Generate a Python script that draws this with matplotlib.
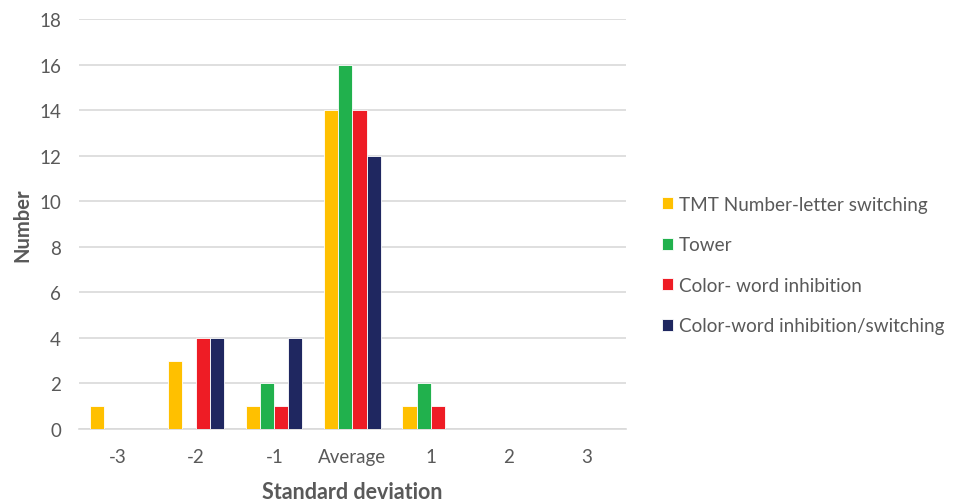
import numpy as np
import matplotlib.pyplot as plt

plt.rcParams['font.family'] = ['Lato', 'DejaVu Sans']

# categories on x axis
categories = ['-3', '-2', '-1', 'Average', '1', '2', '3']

# counts per series
tmt = [1, 3, 1, 14, 1, 0, 0]
tower = [0, 0, 2, 16, 2, 0, 0]
color_word = [0, 4, 1, 14, 1, 0, 0]
color_word_switch = [0, 4, 4, 12, 0, 0, 0]

series = [
    ('TMT Number-letter switching', tmt, '#FFC000'),
    ('Tower', tower, '#21B14D'),
    ('Color- word inhibition', color_word, '#EE1C25'),
    ('Color-word inhibition/switching', color_word_switch, '#1F2760'),
]

text_col = '#595959'

fig = plt.figure(figsize=(9.56, 5.02), dpi=100)
ax = fig.add_axes([0.0826, 0.1434, 0.5722, 0.8168])

x = np.arange(len(categories))
w = 0.18
for i, (name, vals, col) in enumerate(series):
    ax.bar(x + (i - 1.5) * w, vals, width=w, color=col, edgecolor='white',
           linewidth=0.6, label=name, zorder=3)

ax.set_xlim(-0.5, len(categories) - 0.5)
ax.set_ylim(0, 18)
ax.set_yticks(range(0, 19, 2))
ax.set_xticks(x)
ax.set_xticklabels(categories)
ax.yaxis.grid(True, color='#D9D9D9', linewidth=1.2, zorder=0)
ax.set_axisbelow(True)
for s in ['top', 'right', 'left']:
    ax.spines[s].set_visible(False)
ax.spines['bottom'].set_color('#D9D9D9')
ax.spines['bottom'].set_linewidth(1.2)
ax.tick_params(axis='both', length=0, labelsize=13.5, labelcolor=text_col)
ax.tick_params(axis='x', pad=14)
ax.tick_params(axis='y', pad=13)

ax.set_xlabel('Standard deviation', fontsize=15.5, fontweight='bold',
              color=text_col, labelpad=11)
ax.set_ylabel('Number', fontsize=14.5, fontweight='bold', color=text_col,
              labelpad=5)

ax.legend(loc='center left', bbox_to_anchor=(1.035, 0.40), frameon=False,
          fontsize=13.6, labelcolor=text_col, handlelength=0.6,
          handleheight=0.6, handletextpad=0.3, labelspacing=1.25)

fig.savefig('out.png', dpi=100)
